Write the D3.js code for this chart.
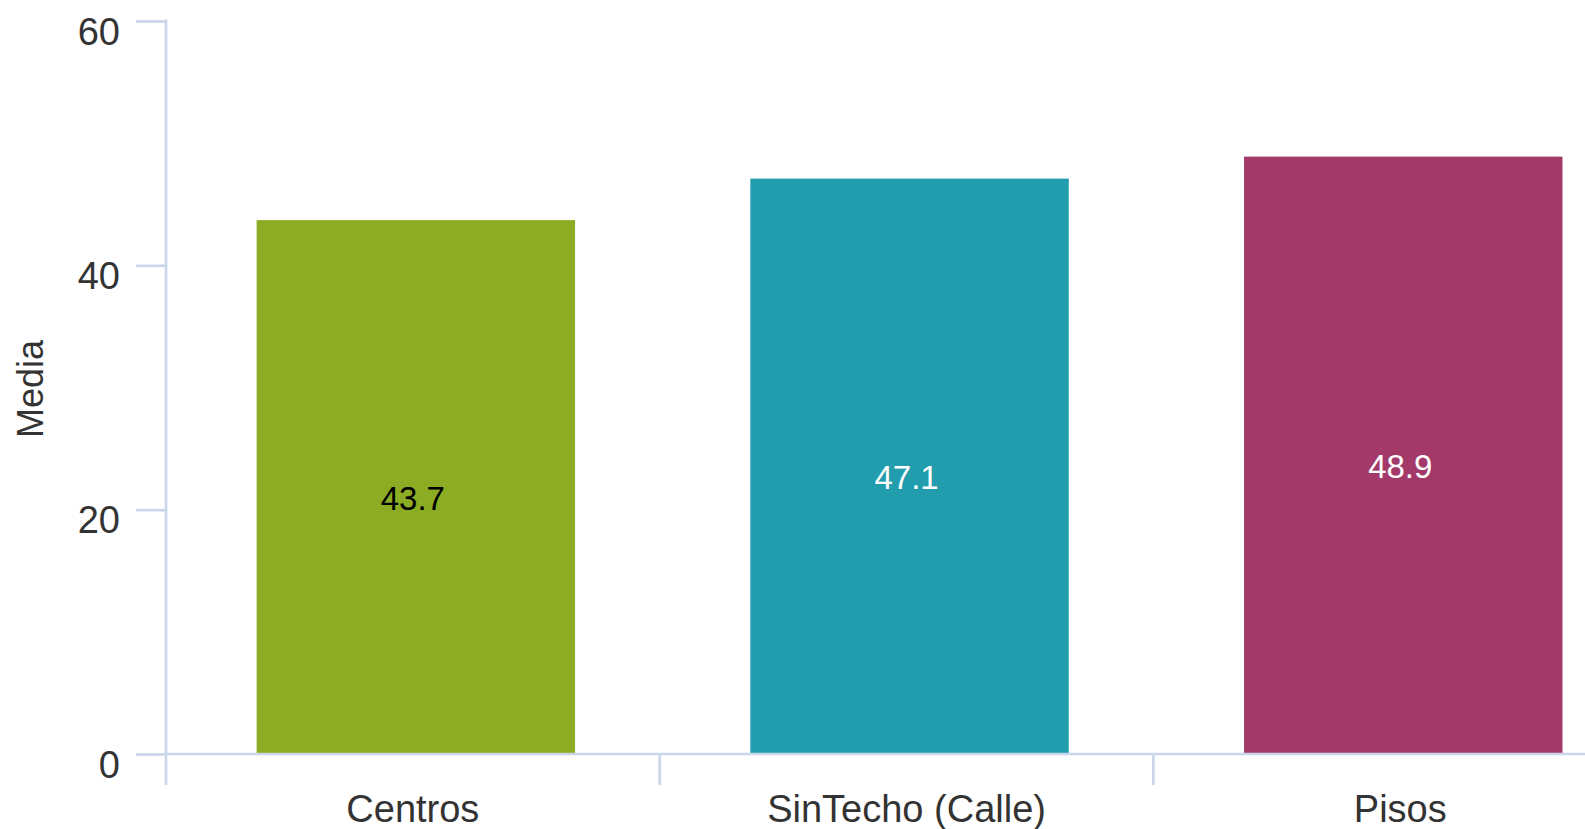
<!DOCTYPE html>
<html>
<head>
<meta charset="utf-8">
<script src="https://cdn.jsdelivr.net/npm/d3@7"></script>
<style>
  html, body { margin: 0; padding: 0; background: #fff; overflow: hidden; }
  svg { display: block; font-family: "Liberation Sans", Arial, sans-serif; }
</style>
</head>
<body>
<svg id="chart" width="1585" height="829"></svg>
<script>
const categories = ["Centros", "SinTecho (Calle)", "Pisos"];
const values = [43.7, 47.1, 48.9];
const barColors = ["#8bac23", "#229dae", "#a33968"];
const labelColors = ["#000000", "#ffffff", "#ffffff"];
const yTicks = [0, 20, 40, 60];
const yTitle = "Media";

const svg = d3.select("#chart");
const axisColor = "#ccd6eb";
const textColor = "#333333";

const x0 = 166, step = 493.7;
const x = d3.scaleBand().domain(categories).range([x0, x0 + step * categories.length])
  .paddingInner(0.355).paddingOuter(0.1775);
const xBand = d3.scaleBand().domain(categories).range([x0, x0 + step * categories.length]);
const y = d3.scaleLinear().domain([0, 60]).range([754, 21]);

// bars
svg.append("g").selectAll("rect").data(values).join("rect")
  .attr("x", (d, i) => x(categories[i]) + 3)
  .attr("width", x.bandwidth())
  .attr("y", d => y(d))
  .attr("height", d => y(0) - y(d))
  .attr("fill", (d, i) => barColors[i]);

// data labels
svg.append("g").selectAll("text").data(values).join("text")
  .attr("x", (d, i) => xBand(categories[i]) + xBand.bandwidth() / 2)
  .attr("y", d => (y(d) + y(0)) / 2)
  .attr("dy", 23)
  .attr("text-anchor", "middle")
  .attr("font-size", 33)
  .attr("fill", (d, i) => labelColors[i])
  .text(d => d.toFixed(1));

// y axis
const yAxis = svg.append("g").attr("transform", `translate(${x0},0)`)
  .call(d3.axisLeft(y).tickValues(yTicks).tickSize(30).tickPadding(16).tickFormat(d3.format("d")));
yAxis.select(".domain").remove();
yAxis.selectAll(".tick line").attr("stroke", axisColor).attr("stroke-width", 2.7);
yAxis.selectAll(".tick text").attr("font-size", 38).attr("fill", textColor)
  .attr("dy", 23).attr("font-family", "Liberation Sans, Arial, sans-serif");
yAxis.append("line").attr("x1", 0).attr("x2", 0).attr("y1", 19.5).attr("y2", 785)
  .attr("stroke", axisColor).attr("stroke-width", 2.7);

// x axis
const xAxis = svg.append("g").attr("transform", `translate(0,${y(0)})`)
  .call(d3.axisBottom(xBand).tickSize(0).tickPadding(0));
xAxis.select(".domain").remove();
xAxis.selectAll(".tick line").remove();
xAxis.selectAll(".tick text").attr("font-size", 38).attr("fill", textColor)
  .attr("y", 0).attr("dy", 68).attr("font-family", "Liberation Sans, Arial, sans-serif");
xAxis.append("line").attr("x1", x0).attr("x2", x0 + step * categories.length)
  .attr("y1", 0).attr("y2", 0).attr("stroke", axisColor).attr("stroke-width", 2.7);
const bounds = categories.map(c => xBand(c)).concat([x0 + step * categories.length]);
xAxis.selectAll(".bound").data(bounds.slice(1)).join("line")
  .attr("x1", d => d).attr("x2", d => d).attr("y1", 0).attr("y2", 31)
  .attr("stroke", axisColor).attr("stroke-width", 2.7);

// y title
svg.append("text")
  .attr("transform", "translate(30,389) rotate(-90)")
  .attr("text-anchor", "middle")
  .attr("dominant-baseline", "central")
  .attr("font-size", 36)
  .attr("fill", textColor)
  .text(yTitle);
</script>
</body>
</html>
